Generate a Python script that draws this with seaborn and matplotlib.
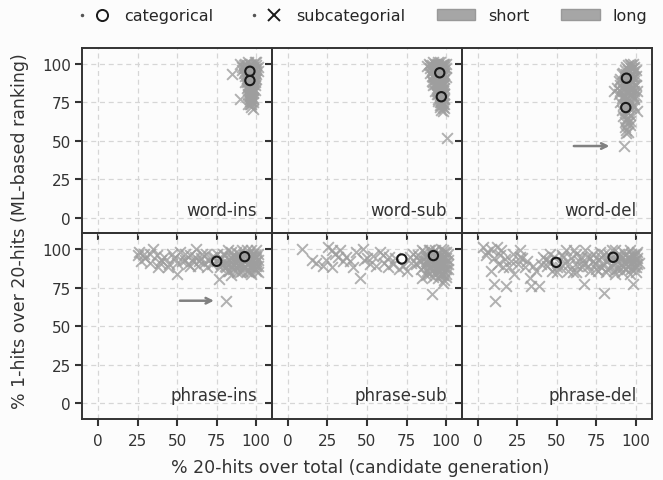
import matplotlib
matplotlib.use('Agg')
import pandas as pd
import matplotlib.pyplot as plt
import seaborn as sns
from matplotlib.lines import Line2D
from matplotlib.patches import Patch
from matplotlib.legend_handler import HandlerTuple


panel_names = ['word-ins', 'word-sub', 'word-del', 'phrase-ins', 'phrase-sub', 'phrase-del']
ticks = [0, 25, 50, 75, 100]

# categorical points (circles): (x, y)
word_ins_cat = [(96, 95), (96, 89)]
word_sub_cat = [(96, 94), (97, 78.5)]
word_del_cat = [(94, 90.5), (93.6, 71.5)]
phrase_ins_cat = [(75, 92), (92.7, 95)]
phrase_sub_cat = [(72, 93.5), (92, 95.7)]
phrase_del_cat = [(49.6, 91.3), (85.6, 94.6)]

# subcategorial points (crosses): (x, y)
word_ins_sub = [(84.6, 93), (89.8, 77), (96, 73.7), (98, 70.4), (92, 99), (93, 100), (94, 98),
                (95, 101), (96, 99), (97, 100), (98, 98), (99, 101), (100, 99), (91, 96), (92, 94),
                (93, 97), (94, 95), (95, 96), (96, 97), (97, 94), (98, 95), (99, 96), (100, 93),
                (93, 92), (94, 90), (95, 91), (96, 93), (97, 89), (98, 91), (99, 90), (94, 88),
                (95, 86), (96, 87), (97, 85), (98, 88), (99, 86), (95, 83), (96, 84), (97, 82),
                (98, 83), (95, 80), (96, 79), (97, 81), (98, 78), (96, 77), (97, 76), (98, 75),
                (95, 74), (97, 72), (96, 86), (92, 97), (93, 95), (94, 99), (95, 97), (96, 95),
                (97, 98), (98, 96), (99, 94), (100, 97), (94, 92), (95, 94), (96, 91), (97, 93),
                (98, 90), (99, 92), (100, 90), (95, 89), (96, 88), (97, 90), (98, 87), (99, 88),
                (95, 85), (96, 82), (97, 86), (98, 84), (99, 83), (96, 80), (97, 78), (98, 81),
                (97, 79), (96, 76), (97, 74), (98, 77), (94, 84), (93, 88), (91, 98), (90, 100),
                (101, 98), (101, 95), (100, 101)]
word_sub_sub = [(87.7, 98.5), (100.8, 51.5), (89, 100), (90, 97), (91, 99), (92, 101), (93, 98),
                (94, 100), (95, 99), (96, 101), (97, 99), (98, 100), (99, 98), (100, 100), (90, 94),
                (92, 95), (93, 92), (94, 96), (95, 93), (96, 90), (97, 95), (98, 93), (99, 96),
                (91, 89), (92, 86), (93, 90), (94, 87), (95, 88), (96, 85), (97, 88), (98, 86),
                (99, 90), (93, 82), (94, 80), (95, 83), (96, 81), (97, 83), (98, 80), (99, 84),
                (95, 77), (96, 75), (97, 76), (98, 74), (99, 77), (96, 72), (97, 70), (98, 69),
                (99, 71), (97, 73), (98, 78), (90, 99), (91, 96), (92, 98), (93, 100), (94, 97),
                (95, 101), (96, 98), (97, 97), (98, 99), (99, 100), (100, 97), (91, 92), (92, 91),
                (93, 94), (94, 91), (95, 95), (96, 92), (97, 91), (98, 92), (99, 93), (100, 91),
                (92, 88), (93, 87), (94, 84), (95, 86), (96, 88), (97, 86), (98, 89), (99, 87),
                (94, 82), (95, 80), (96, 79), (97, 81), (98, 82), (99, 80), (96, 73), (97, 75),
                (98, 72), (99, 74), (95, 76)]
word_del_sub = [(92.6, 46.6), (98, 100), (99, 98), (97, 97), (95, 99), (93, 96), (96, 95), (100, 96),
                (91, 93), (94, 93), (97, 92), (99, 91), (89, 89), (92, 88), (95, 87), (98, 88),
                (100, 86), (88, 84), (91, 85), (93, 83), (96, 84), (99, 82), (86, 82), (101, 82),
                (89, 80), (92, 79), (95, 78), (97, 80), (100, 79), (90, 75), (93, 74), (96, 76),
                (98, 73), (91, 70), (94, 69), (97, 71), (101, 69), (92, 66), (95, 65), (93, 62),
                (96, 60), (94, 57), (94, 55), (96, 100), (94, 98), (97, 99), (98, 97), (95, 96),
                (99, 95), (92, 94), (93, 91), (96, 92), (98, 91), (100, 92), (90, 90), (93, 86),
                (94, 89), (96, 87), (97, 89), (99, 86), (90, 86), (92, 83), (94, 82), (97, 83),
                (98, 84), (90, 82), (91, 78), (93, 79), (94, 77), (96, 80), (98, 79), (99, 77),
                (92, 73), (94, 75), (95, 72), (97, 74), (99, 72), (93, 70), (95, 68), (96, 67),
                (94, 64), (95, 62), (93, 59), (95, 56), (96, 63)]
phrase_ins_sub = [(25, 96), (26, 98), (27, 92), (30, 94), (33, 97), (35, 100), (37, 96), (39, 91),
                  (40, 93), (44, 88), (45, 90), (48, 94), (50, 84), (50, 91), (52, 98), (55, 93),
                  (57, 90), (58, 96), (60, 92), (62, 100), (63, 89), (65, 94), (67, 91), (68, 97),
                  (70, 93), (72, 90), (73, 95), (75, 97), (76.5, 80.5), (77, 88), (78, 94), (80, 91),
                  (80, 96), (81, 66), (82, 86), (83, 93), (84, 98), (85, 90), (86, 95), (87, 88),
                  (88, 92), (89, 97), (90, 85), (90, 94), (91, 90), (92, 96), (93, 88), (93, 93),
                  (94, 99), (95, 91), (95, 86), (96, 95), (97, 84), (97, 89), (98, 93), (98, 97),
                  (99, 91), (99, 87), (100, 95), (100, 92), (101, 89), (101, 97), (84, 83), (88, 85),
                  (78, 90), (79, 97), (81, 88), (82, 99), (83, 90), (84, 95), (85, 87), (86, 92),
                  (87, 98), (88, 95), (89, 89), (89, 93), (90, 90), (91, 99), (91, 86), (92, 92),
                  (92, 88), (93, 96), (94, 90), (94, 86), (95, 97), (96, 89), (96, 92), (96, 85),
                  (97, 99), (97, 94), (98, 88), (98, 90), (99, 96), (99, 94), (100, 89), (100, 86),
                  (101, 93), (101, 85), (100, 99), (87, 91), (83, 86), (80, 89), (75, 92), (72, 95),
                  (69, 88), (66, 97), (64, 92), (61, 95), (58, 89), (55, 97), (53, 92), (47, 97),
                  (42, 95), (38, 88), (33, 91), (29, 97)]
phrase_sub_sub = [(8.8, 100), (18, 91), (22.4, 89), (25.5, 101), (27.7, 99), (31.8, 94.6), (30, 97),
                  (35, 92), (39, 92.4), (41, 88), (43, 98), (45.5, 81.5), (47.5, 100), (50, 94),
                  (54, 95.7), (56, 89), (58, 98), (61, 91), (64, 95), (66.5, 90), (70, 87), (75, 86),
                  (77, 95), (79, 97), (81, 90), (83, 93), (85, 81.5), (85, 99), (87, 95), (88, 91),
                  (88, 86), (89, 99), (90, 93), (90, 88), (91, 70.6), (91, 97), (92, 90), (93, 85),
                  (93, 99), (94, 94), (95, 81.5), (95, 90), (95, 97), (96, 86), (96, 93), (97, 100),
                  (97, 89), (98, 83), (98, 95), (99, 91), (99, 98), (100, 87), (100, 94), (101, 90),
                  (101, 97), (98, 78), (100, 82), (94, 88), (82, 96), (84, 92), (86, 89), (86, 98),
                  (87, 92), (88, 96), (89, 94), (89, 88), (90, 99), (90, 91), (91, 94), (91, 86),
                  (92, 98), (92, 93), (93, 90), (93, 95), (94, 97), (94, 91), (95, 93), (95, 86),
                  (96, 96), (96, 89), (97, 92), (97, 96), (97, 84), (98, 99), (98, 90), (99, 94),
                  (99, 86), (100, 98), (100, 91), (101, 93), (101, 87), (100, 84), (96, 83), (99, 80),
                  (92, 82), (89, 84), (87, 83), (84, 87), (78, 91), (73, 89), (68, 94), (63, 88),
                  (60, 96), (52, 90), (48, 93), (37, 95), (33, 99), (28, 88), (24, 93), (15, 93)]
phrase_del_sub = [(3.5, 101), (6, 98), (8.7, 100), (12, 101), (15, 99), (8.7, 86), (10, 77), (18, 76),
                  (11, 66), (17, 93.5), (14, 96), (22, 97), (26.5, 99), (25.5, 90), (28, 94),
                  (31, 92.4), (33, 81.5), (34, 76), (39, 76), (37, 86), (35, 89), (41, 94.6), (44, 89),
                  (46, 97), (52, 88), (54, 94.6), (58, 90), (60, 85), (62, 97), (64, 92), (67.5, 77),
                  (66, 88), (69, 95), (72.7, 92.4), (75, 87), (77, 98), (79, 91), (80, 71.7), (81, 85),
                  (83, 96), (84, 89), (86, 86), (87, 99), (88, 92), (89, 88), (90, 95), (91, 85),
                  (92, 98), (93, 90), (94, 87), (95, 94), (96, 99), (96, 84), (97, 91), (98, 77),
                  (98, 96), (99, 88), (100, 93), (100, 85), (101, 98), (101, 90), (20, 88), (23, 84),
                  (43, 93), (56, 99), (71, 86), (47, 86), (40, 90), (45, 92), (48, 95), (50, 88),
                  (53, 96), (55, 91), (57, 86), (59, 94), (61, 99), (63, 89), (65, 95), (67, 91),
                  (68, 99), (70, 89), (71, 94), (73, 97), (74, 90), (76, 93), (78, 88), (78, 95),
                  (80, 97), (82, 92), (82, 87), (84, 94), (85, 99), (86, 90), (87, 95), (88, 87),
                  (89, 97), (90, 91), (91, 94), (92, 88), (93, 96), (94, 92), (95, 89), (96, 95),
                  (97, 87), (97, 97), (98, 92), (99, 95), (99, 90), (100, 97), (100, 88), (101, 94),
                  (102, 91), (87, 84), (76, 86), (62, 85), (50, 85), (30, 88), (27, 95), (21, 92),
                  (16, 88), (5, 96), (10, 94), (13, 90)]

cat_points = [word_ins_cat, word_sub_cat, word_del_cat, phrase_ins_cat, phrase_sub_cat, phrase_del_cat]
sub_points = [word_ins_sub, word_sub_sub, word_del_sub, phrase_ins_sub, phrase_sub_sub, phrase_del_sub]

# arrows pointing at outliers: (panel, y, x_start, x_end)
arrow_marks = [('word-del', 46.6, 59, 85), ('phrase-ins', 66.5, 50, 75)]


def build_frame() -> pd.DataFrame:
    rows = []
    for name, cats, subs in zip(panel_names, cat_points, sub_points):
        for x, y in subs:
            rows.append({'panel': name, 'kind': 'subcategorial', 'x': x, 'y': y})
        for x, y in cats:
            rows.append({'panel': name, 'kind': 'categorical', 'x': x, 'y': y})
    return pd.DataFrame(rows)


df = build_frame()

sns.set_style('ticks')
plt.rcParams['font.family'] = ['DejaVu Sans']
dark = '#333333'
grey = '#9e9e9e'

fig, axes = plt.subplots(2, 3, figsize=(6.63, 4.81), dpi=100, sharex=True, sharey=True)
fig.patch.set_facecolor('#fcfcfc')
fig.subplots_adjust(left=0.124, right=0.983, top=0.898, bottom=0.127, wspace=0, hspace=0)

for ax, name in zip(axes.flat, panel_names):
    ax.set_facecolor('none')
    part = df[df['panel'] == name]
    sns.scatterplot(data=part[part['kind'] == 'subcategorial'], x='x', y='y', marker='x', s=60,
                    color=grey, alpha=0.8, linewidth=1.4, ax=ax, legend=False, zorder=2)
    sns.scatterplot(data=part[part['kind'] == 'categorical'], x='x', y='y', marker='o', s=45,
                    facecolor='none', edgecolor='#1a1a1a', linewidth=1.5, ax=ax, legend=False, zorder=3)
    ax.text(0.92, 0.08, name, transform=ax.transAxes, ha='right', va='bottom', fontsize=12, color=dark)
    ax.set_xlim(-10, 110)
    ax.set_ylim(-10, 110)
    ax.set_xticks(ticks)
    ax.set_yticks(ticks)
    ax.grid(True, ls=(0, (4, 3)), color='#d6d6d6', lw=0.9)
    ax.set_axisbelow(True)
    ax.set_xlabel('')
    ax.set_ylabel('')
    for spine in ax.spines.values():
        spine.set_color(dark)
        spine.set_linewidth(1.4)
    ax.tick_params(direction='out', length=5, width=1.5, color=dark, labelcolor=dark, labelsize=11, pad=3)
    ax.tick_params(axis='x', pad=5)

for name, y, x0, x1 in arrow_marks:
    ax = axes.flat[panel_names.index(name)]
    ax.annotate('', xy=(x1, y), xytext=(x0, y),
                arrowprops=dict(arrowstyle='->', color='#808080', lw=1.8))

fig.text(0.543, 0.027, '% 20-hits over total (candidate generation)', ha='center', va='center',
         fontsize=12.5, color=dark)
fig.text(0.03, 0.52, '% 1-hits over 20-hits (ML-based ranking)', ha='center', va='center',
         rotation=90, fontsize=12.5, color=dark)

dot = Line2D([], [], ls='none', marker='.', markersize=3, color='#555555')
handles = [
    (dot, Line2D([], [], ls='none', marker='o', markersize=8, markerfacecolor='none',
                 markeredgecolor='#1a1a1a', markeredgewidth=1.4)),
    (dot, Line2D([], [], ls='none', marker='x', markersize=8, color='#1a1a1a', markeredgewidth=1.4)),
    Patch(facecolor='#a6a6a6', edgecolor='#999999'),
    Patch(facecolor='#a6a6a6', edgecolor='#999999'),
]
labels = ['categorical', 'subcategorial', 'short', 'long']
fig.legend(handles, labels, loc='center', bbox_to_anchor=(0.543, 0.965), ncol=4, frameon=False,
           fontsize=11.5, handlelength=2.4, handletextpad=0.8, columnspacing=2.0,
           handler_map={tuple: HandlerTuple(ndivide=None, pad=0.1)})

plt.savefig('out.png', dpi=100, facecolor=fig.get_facecolor())
plt.close()
